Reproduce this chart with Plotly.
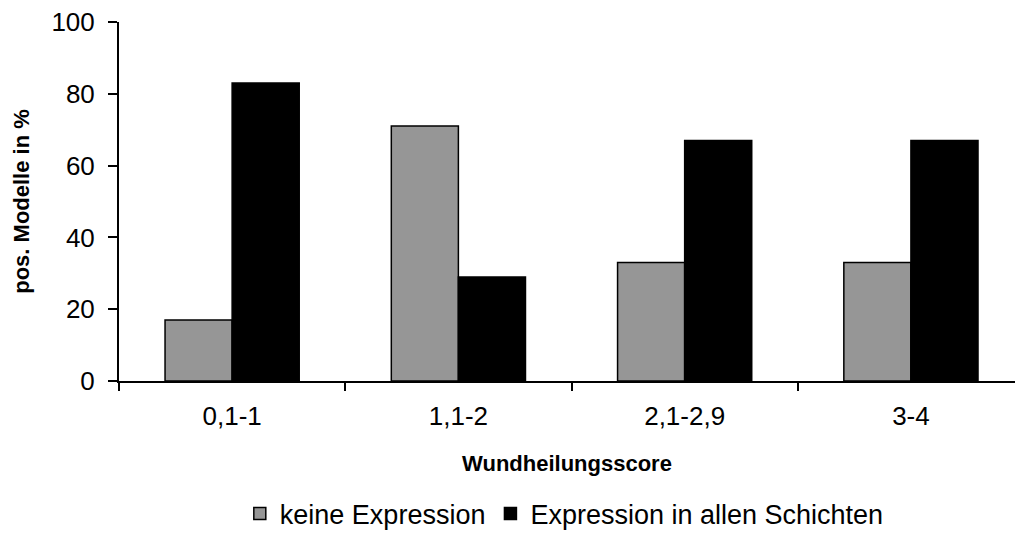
import plotly.graph_objects as go

categories = ["0,1-1", "1,1-2", "2,1-2,9", "3-4"]
keine_expression = [17, 71, 33, 33]
expression_alle = [83, 29, 67, 67]
series_names = ["keine Expression", "Expression in allen Schichten"]
y_ticks = [0, 20, 40, 60, 80, 100]

FONT = "Liberation Sans, Arial, sans-serif"

fig = go.Figure()
fig.add_trace(go.Bar(
    x=categories, y=keine_expression, name=series_names[0],
    marker=dict(color="#969696", line=dict(color="#000000", width=1.5)),
))
fig.add_trace(go.Bar(
    x=categories, y=expression_alle, name=series_names[1],
    marker=dict(color="#000000", line=dict(color="#000000", width=1.5)),
))

fig.update_layout(
    width=1015, height=549,
    margin=dict(l=119, r=0, t=22, b=168),
    paper_bgcolor="white", plot_bgcolor="white",
    barmode="group", bargap=0.407, bargroupgap=0,
    font=dict(family=FONT, color="#000000"),
    showlegend=True,
    legend=dict(
        orientation="h", x=0.497, xanchor="center", y=-0.37, yanchor="middle",
        font=dict(size=27, family=FONT), traceorder="normal",
        bgcolor="rgba(0,0,0,0)", itemwidth=30,
    ),
    xaxis=dict(
        range=[-0.5, 3.46],
        showline=True, linecolor="#000000", linewidth=2,
        ticks="outside", tickson="boundaries", ticklen=8, tickwidth=2, tickcolor="#000000",
        ticklabelstandoff=11,
        tickfont=dict(size=26, family=FONT),
        title=dict(text="<b>Wundheilungsscore</b>", font=dict(size=22, family=FONT), standoff=25),
        showgrid=False, zeroline=False,
    ),
    yaxis=dict(
        range=[0, 100], tickvals=y_ticks,
        showline=True, linecolor="#000000", linewidth=2,
        ticks="outside", ticklen=9, tickwidth=2, tickcolor="#000000",
        ticklabelstandoff=8,
        tickfont=dict(size=26, family=FONT),
        title=dict(text="<b>pos. Modelle in %</b>", font=dict(size=22, family=FONT), standoff=16),
        showgrid=False, zeroline=False,
    ),
)

fig.write_html("out.html")
